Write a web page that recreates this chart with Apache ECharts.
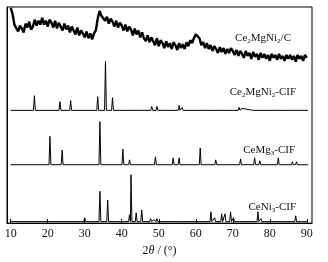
<!DOCTYPE html>
<html>
<head>
<meta charset="utf-8">
<script src="https://cdn.jsdelivr.net/npm/echarts@6/dist/echarts.min.js"></script>
<style>
  html, body { margin: 0; padding: 0; background: #fff; }
  #chart { width: 328px; height: 262px; }
</style>
</head>
<body>
<div id="chart"></div>
<script>
// measured pattern, Ce2MgNi2/C, sampled every 0.5 deg from 10 deg
var measuredStart = 10;
var measuredStep = 0.5;
var measured = [
  220, 214, 203, 205, 196, 202, 199, 195, 204, 200,
  206, 198, 201, 208, 202, 207, 203, 210, 203, 207,
  201, 208, 205, 200, 207, 199, 205, 203, 197, 204,
  198, 202, 195, 201, 197, 193, 200, 192, 197, 194,
  190, 196, 189, 194, 188, 194, 197, 209, 217, 212,
  214, 207, 211, 204, 209, 206, 201, 207, 200, 205,
  202, 197, 203, 196, 201, 198, 192, 199, 193, 197,
  190, 195, 189, 186, 192, 185, 190, 186, 182, 189,
  181, 187, 184, 179, 186, 180, 184, 178, 185, 182,
  177, 184, 179, 183, 178, 185, 181, 187, 184, 189,
  193, 195, 189, 182, 185, 179, 184, 178, 182, 176,
  181, 178, 174, 180, 175, 179, 173, 178, 174, 179,
  176, 172, 177, 171, 176, 173, 169, 176, 171, 174,
  168, 175, 170, 173, 167, 174, 169, 173, 168, 172,
  166, 173, 169, 172, 167, 173, 168, 171, 166, 172,
  168, 172, 167, 171, 165, 172, 168, 171, 166, 172,
  169
];

// CIF reference patterns: [2theta, peak height]
var ce2mgni2Cif = [
  [16.4, 15], [23.3, 9], [26.2, 10], [33.5, 14], [35.6, 50], [37.5, 13],
  [43.0, 1.5], [45.5, 1], [48.1, 4], [49.5, 4], [50.9, 2], [55.5, 5],
  [56.3, 3], [62.7, 2], [67.1, 1.5], [71.7, 3], [72.5, 2], [75.8, 2],
  [81.7, 2], [85.8, 1.5], [88.5, 1]
];
var cemg3Cif = [
  [20.6, 29], [23.9, 15], [34.1, 44], [40.3, 16], [42.1, 5], [49.1, 8],
  [53.9, 7], [55.5, 7], [61.2, 17], [65.4, 5], [72.1, 6], [75.9, 7],
  [77.3, 4], [82.3, 7], [86.1, 3], [87.2, 3]
];
var ceni3Cif = [
  [21.1, 1], [30.0, 4], [32.6, 1.5], [34.1, 31], [36.2, 22], [38.6, 2],
  [42.1, 7], [42.5, 48], [43.9, 9], [45.4, 12], [47.8, 3], [48.7, 2],
  [49.5, 3], [54.4, 1.5], [55.6, 1.5], [59.5, 1.5], [64.1, 10], [65.1, 4],
  [67.0, 8], [67.9, 8], [69.4, 10], [70.2, 4], [72.1, 2], [74.4, 1.5],
  [76.8, 10], [77.6, 3], [78.9, 2], [80.3, 1.5], [83.4, 2], [84.7, 2],
  [87.0, 6], [88.8, 2]
];

var tickLabels = [10, 20, 30, 40, 50, 60, 70, 80, 90];

var serif = "'Liberation Serif', 'DejaVu Serif', serif";

function measuredPoints() {
  return measured.map(function (v, i) {
    return [measuredStart + i * measuredStep, v];
  });
}

// turn a stick list into a line with narrow triangular peaks
function cifPoints(peaks, base) {
  var w = 0.25;
  var pts = [[10, base]];
  peaks.forEach(function (p) {
    pts.push([p[0] - w, base]);
    pts.push([p[0], base + p[1]]);
    pts.push([p[0] + w, base]);
  });
  pts.push([90.3, base]);
  return pts;
}

function lineSeries(data, width) {
  return {
    type: "line",
    data: data,
    showSymbol: false,
    silent: true,
    sampling: null,
    animation: false,
    lineStyle: { color: "#000", width: width || 1, join: "bevel" }
  };
}

function label(parts, x, y) {
  return {
    type: "text",
    x: x,
    y: y,
    style: {
      text: parts,
      align: "right",
      verticalAlign: "middle",
      rich: {
        a: { fontFamily: serif, fontSize: 11, fill: "#111" },
        s: { fontFamily: serif, fontSize: 7, fill: "#111", padding: [6, 0, 0, 0] }
      }
    }
  };
}

var chart = echarts.init(document.getElementById("chart"));

chart.setOption({
  animation: false,
  grid: {
    left: 7, right: 16, top: 7, bottom: 34,
    show: true, borderColor: "#000", borderWidth: 1
  },
  xAxis: {
    type: "value",
    min: 9,
    max: 91.4,
    name: "{n|2}{i|θ}{n| / (°)}",
    nameLocation: "middle",
    nameGap: 18,
    nameTextStyle: {
      rich: {
        n: { fontFamily: serif, fontSize: 12, color: "#111" },
        i: { fontFamily: serif, fontSize: 12, color: "#111", fontStyle: "italic" }
      }
    },
    axisLine: { lineStyle: { color: "#000", width: 1 } },
    axisTick: { inside: true, length: 4, customValues: tickLabels, lineStyle: { color: "#000" } },
    axisLabel: { customValues: tickLabels, margin: 5, fontFamily: serif, fontSize: 12, color: "#111" },
    splitLine: { show: false }
  },
  yAxis: {
    type: "value",
    min: 0,
    max: 221,
    axisLine: { show: true, lineStyle: { color: "#000" } },
    axisTick: { show: false },
    axisLabel: { show: false },
    splitLine: { show: false }
  },
  series: [
    lineSeries(measuredPoints(), 2.4),
    lineSeries(cifPoints(ce2mgni2Cif, 115.3)),
    lineSeries(cifPoints(cemg3Cif, 59.7)),
    lineSeries(cifPoints(ceni3Cif, 1.5))
  ],
  graphic: [
    label("{a|Ce}{s|2}{a|MgNi}{s|2}{a|/C}", 291, 38),
    label("{a|Ce}{s|2}{a|MgNi}{s|2}{a|-CIF}", 296, 92),
    label("{a|CeMg}{s|3}{a|-CIF}", 295, 150),
    label("{a|CeNi}{s|3}{a|-CIF}", 296, 207)
  ]
});
</script>
</body>
</html>
